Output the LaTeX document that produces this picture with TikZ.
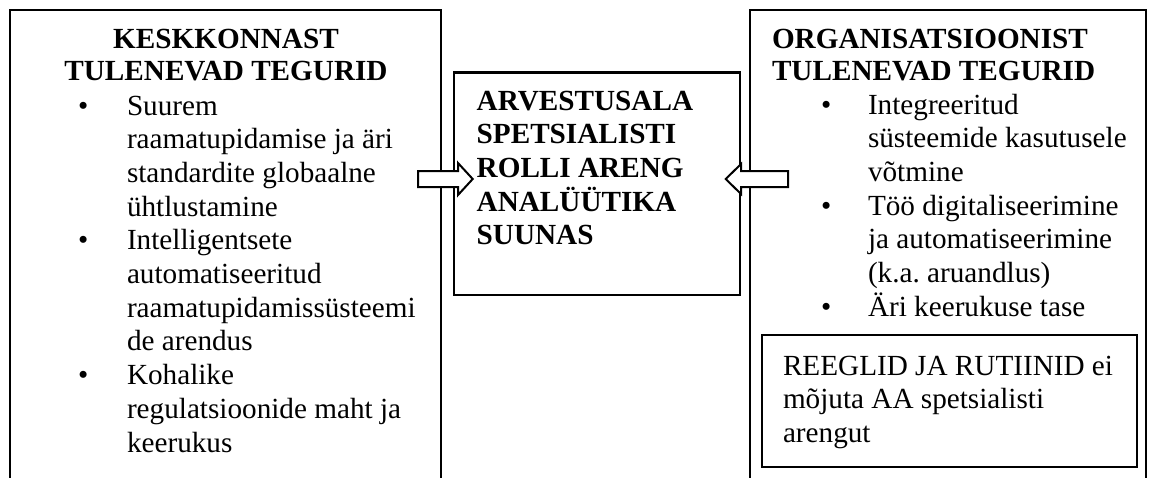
\documentclass[tikz,border=0pt]{standalone}
\usepackage{fontspec}
\setmainfont{Liberation Serif}
\usetikzlibrary{fit}
% strut that fixes the first baseline of a text block 12pt below its top
\newcommand\firststrut{\rule{0pt}{12pt}}
\frenchspacing
\begin{document}
\begin{tikzpicture}[x=0.5pt,y=-0.5pt,
  panel/.style={inner sep=0pt, outer sep=0pt},
  frameline/.style={line width=1pt, line cap=rect},
  boxed/.style={draw, line width=1pt, inner sep=0pt, outer sep=0pt},
  centrebox/.style={draw, line width=1.4pt, inner sep=0pt, outer sep=0pt},
  blockarrow/.style={draw, fill=white, line width=1pt, line join=miter},
  body/.style={inner sep=0pt, outer sep=0pt, anchor=north west, align=left,
    font={\fontsize{14.6}{16.85}\selectfont}},
  head/.style={body, font={\fontsize{14.6}{16.25}\selectfont\bfseries}},
  dot/.style={inner sep=0pt, outer sep=0pt, anchor=base west,
    font={\fontsize{14.6}{16.85}\selectfont}}]
\useasboundingbox (0,0) rectangle (1149,477);

% outer panels, open at the bottom
\node[panel, fit={(10,10) (440.5,477)}] (env) {};
\node[panel, fit={(750,10) (1146,477)}] (org) {};
\draw[frameline] (env.south west) -- (env.north west) -- (env.north east) -- (env.south east);
\draw[frameline] (org.south west) -- (org.north west) -- (org.north east) -- (org.south east);

% central box and the box inside the right panel
\node[centrebox, fit={(454,72.7) (740,295)}] (role) {};
\node[boxed, fit={(761.5,335) (1136.5,467)}] (rules) {};

% headings
\node[head, anchor=north, align=center] (envhead) at (226,24)
  {\firststrut KESKKONNAST\\TULENEVAD TEGURID};
\node[head] (orghead) at (772,24)
  {\firststrut ORGANISATSIOONIST\\TULENEVAD TEGURID};

% left panel items
\node[body] (envtext) at (127,91)
  {\firststrut Suurem\\
   raamatupidamise ja äri\\
   standardite globaalne\\
   ühtlustamine\\
   Intelligentsete\\
   automatiseeritud\\
   raamatupidamissüsteemi\\
   de arendus\\
   Kohalike\\
   regulatsioonide maht ja\\
   keerukus};
\node[dot] (envb1) at (78,115) {•};
\node[dot] (envb2) at (78,249.8) {•};
\node[dot] (envb3) at (78,384.6) {•};

% right panel items
\node[body] (orgtext) at (868,90)
  {\firststrut Integreeritud\\
   süsteemide kasutusele\\
   võtmine\\
   Töö digitaliseerimine\\
   ja automatiseerimine\\
   (k.a. aruandlus)\\
   Äri keerukuse tase};
\node[dot] (orgb1) at (821,114) {•};
\node[dot] (orgb2) at (821,215.1) {•};
\node[dot] (orgb3) at (821,316.2) {•};

% central box text
\node[body, font={\fontsize{14.6}{16.85}\selectfont\bfseries}] (roletext) at (476.7,86)
  {\firststrut ARVESTUSALA\\
   SPETSIALISTI\\
   ROLLI ARENG\\
   ANALÜÜTIKA\\
   SUUNAS};

% box inside the right panel
\node[body] (rulestext) at (783,351)
  {\firststrut REEGLID JA RUTIINID ei\\
   mõjuta AA spetsialisti\\
   arengut};

% block arrows pointing into the central box
\draw[blockarrow] (418,171) -- (458,171) -- (458,163) -- (472.7,179)
  -- (458,195) -- (458,187) -- (418,187) -- cycle;
\draw[blockarrow] (788,171) -- (741,171) -- (741,164) -- (725.7,179)
  -- (741,194) -- (741,187) -- (788,187) -- cycle;
\end{tikzpicture}
\end{document}
